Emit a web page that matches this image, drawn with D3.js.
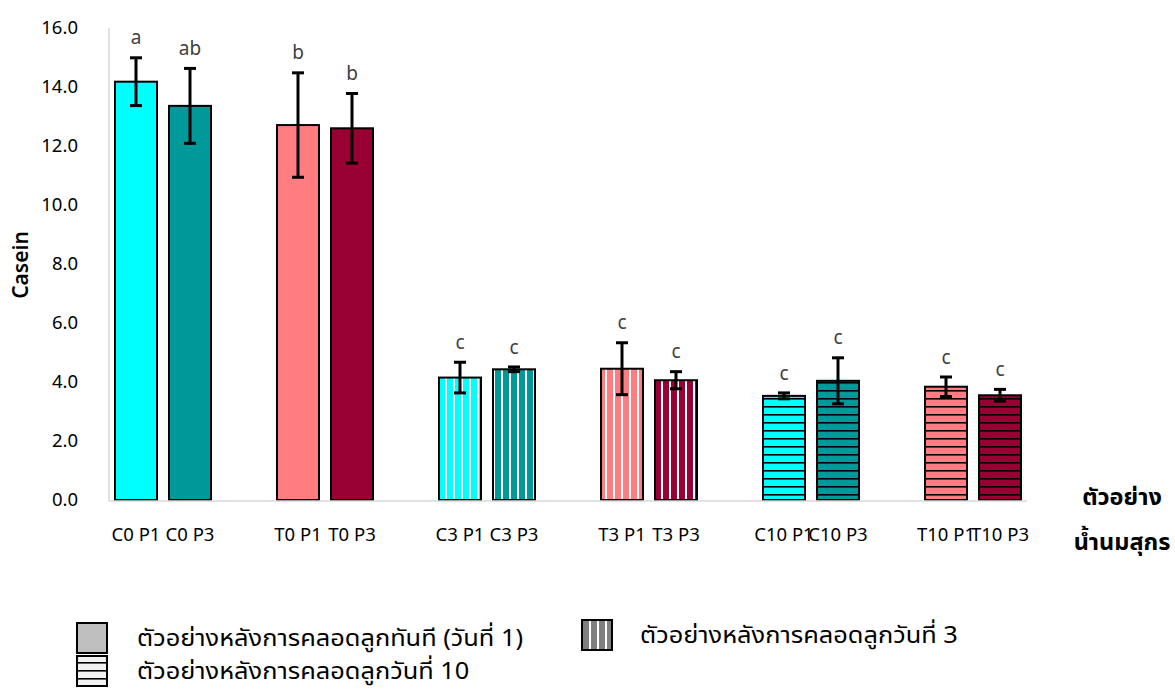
<!DOCTYPE html>
<html>
<head>
<meta charset="utf-8">
<script src="https://cdn.jsdelivr.net/npm/d3@7"></script>
<style>
  html, body { margin: 0; padding: 0; background: #fff; }
  svg { display: block; }
</style>
</head>
<body>
<svg id="chart" width="1175" height="689"></svg>
<script>
// Casein content of sow milk samples (mean ± SD) with significance letters
const categories = ["C0 P1", "C0 P3", "T0 P1", "T0 P3", "C3 P1", "C3 P3",
                    "T3 P1", "T3 P3", "C10 P1", "C10 P3", "T10 P1", "T10 P3"];
const casein = [14.18, 13.36, 12.71, 12.60, 4.15, 4.43, 4.45, 4.06, 3.53, 4.04, 3.84, 3.55];
const caseinSd = [0.81, 1.27, 1.77, 1.18, 0.52, 0.08, 0.88, 0.29, 0.10, 0.78, 0.33, 0.20];
const letters = ["a", "ab", "b", "b", "c", "c", "c", "c", "c", "c", "c", "c"];
const yTicks = [0, 2, 4, 6, 8, 10, 12, 14, 16];
const legendLabels = ["ตัวอย่างหลังการคลอดลูกทันที (วันที่ 1)",
                      "ตัวอย่างหลังการคลอดลูกวันที่ 3",
                      "ตัวอย่างหลังการคลอดลูกวันที่ 10"];
const yTitle = "Casein";
const xTitle = ["ตัวอย่าง", "น้ำนมสุกร"];

const svg = d3.select("#chart");
const latin = "'Noto Sans', 'Open Sans', sans-serif";
const thai = "'Noto Sans Thai', 'Noto Sans Thai UI', Tahoma, 'Noto Sans', sans-serif";

const plot = { left: 109, right: 1027, top: 28, bottom: 500 };

// Each pair of bars is followed by an empty slot
const slots = [];
categories.forEach((c, i) => {
  slots.push(c);
  if (i % 2 === 1 && i < categories.length - 1) slots.push("gap" + i);
});

const x = d3.scaleBand().domain(slots)
  .range([plot.left, plot.right])
  .paddingInner(12 / 54).paddingOuter(6 / 54);
const y = d3.scaleLinear().domain([0, 16]).range([plot.bottom, plot.top]);

// fill colour: control/treatment × P1/P3
function baseColour(cat) {
  const treat = cat[0] === "T";
  const p3 = /P3$/.test(cat);
  if (!treat) return p3 ? "#009999" : "#00ffff";
  return p3 ? "#990033" : "#ff7c80";
}
function day(cat) { return +cat.match(/^[CT](\d+)/)[1]; }

// patterns: vertical white stripes (day 3), horizontal black lines (day 10)
const defs = svg.append("defs");
const colours = ["#00ffff", "#009999", "#ff7c80", "#990033", "#808080", "#f2f2f2"];
colours.forEach(col => {
  const id = col.slice(1);
  const v = defs.append("pattern").attr("id", "v" + id)
    .attr("patternUnits", "userSpaceOnUse").attr("width", 8).attr("height", 8);
  v.append("rect").attr("width", 8).attr("height", 8).attr("fill", col);
  v.append("rect").attr("x", 5).attr("width", 2).attr("height", 8).attr("fill", "#fff");
  const h = defs.append("pattern").attr("id", "h" + id)
    .attr("patternUnits", "userSpaceOnUse").attr("width", 8).attr("height", 8);
  h.append("rect").attr("width", 8).attr("height", 8).attr("fill", col);
  h.append("rect").attr("y", 6).attr("width", 8).attr("height", 1.6).attr("fill", "#000");
});
function fillFor(cat) {
  const col = baseColour(cat);
  const d = day(cat);
  if (d === 0) return col;
  return `url(#${d === 3 ? "v" : "h"}${col.slice(1)})`;
}

// value axis line
svg.append("line").attr("x1", plot.left).attr("x2", plot.left)
  .attr("y1", plot.top).attr("y2", plot.bottom + 1)
  .attr("stroke", "#d9d9d9").attr("stroke-width", 1.5);

// y tick labels
svg.append("g").selectAll("text").data(yTicks).join("text")
  .attr("x", 78).attr("y", d => y(d))
  .attr("dy", "0.33em")
  .attr("text-anchor", "end")
  .attr("font-family", latin).attr("font-size", 18.5).attr("fill", "#000")
  .text(d => d3.format(".1f")(d));

const data = categories.map((c, i) => ({ cat: c, v: casein[i], sd: caseinSd[i], letter: letters[i] }));

// bars
svg.append("g").selectAll("rect").data(data).join("rect")
  .attr("x", d => x(d.cat)).attr("width", x.bandwidth())
  .attr("y", d => y(d.v)).attr("height", d => y(0) - y(d.v))
  .attr("fill", d => fillFor(d.cat))
  .attr("stroke", "#000").attr("stroke-width", 2);

// category axis line
svg.append("line").attr("x1", plot.left).attr("x2", plot.right)
  .attr("y1", plot.bottom + 1).attr("y2", plot.bottom + 1)
  .attr("stroke", "#d9d9d9").attr("stroke-width", 1.5);

// error bars
const eb = svg.append("g").attr("stroke", "#000").attr("stroke-width", 3);
data.forEach(d => {
  const cx = x(d.cat) + x.bandwidth() / 2;
  eb.append("line").attr("x1", cx).attr("x2", cx)
    .attr("y1", y(d.v + d.sd)).attr("y2", y(d.v - d.sd));
  [d.v + d.sd, d.v - d.sd].forEach(v => {
    eb.append("line").attr("x1", cx - 6).attr("x2", cx + 6)
      .attr("y1", y(v)).attr("y2", y(v));
  });
});

// significance letters
svg.append("g").selectAll("text").data(data).join("text")
  .attr("x", d => x(d.cat) + x.bandwidth() / 2)
  .attr("y", d => y(d.v + d.sd) - 20)
  .attr("dy", "0.35em")
  .attr("text-anchor", "middle")
  .attr("font-family", latin).attr("font-size", 19).attr("fill", "#404040")
  .text(d => d.letter);

// x category labels
svg.append("g").selectAll("text").data(categories).join("text")
  .attr("x", d => x(d) + x.bandwidth() / 2)
  .attr("y", 541)
  .attr("text-anchor", "middle")
  .attr("font-family", latin).attr("font-size", 18.5).attr("fill", "#000")
  .text(d => d);

// axis titles
svg.append("text")
  .attr("transform", "translate(28,265) rotate(-90)")
  .attr("text-anchor", "middle")
  .attr("font-family", latin).attr("font-size", 21).attr("font-weight", 600)
  .text(yTitle);

svg.append("g").selectAll("text").data(xTitle).join("text")
  .attr("x", 1122).attr("y", (d, i) => 505 + i * 45)
  .attr("text-anchor", "middle")
  .attr("font-family", thai).attr("font-size", 23.5).attr("font-weight", "bold")
  .text(d => d);

// legend
const legendItems = [
  { label: legendLabels[0], fill: "#bfbfbf", sx: 77, sy: 623, tx: 137 },
  { label: legendLabels[1], fill: "url(#v808080)", sx: 582, sy: 620, tx: 640 },
  { label: legendLabels[2], fill: "url(#hf2f2f2)", sx: 77, sy: 656, tx: 137 }
];
const lg = svg.append("g");
legendItems.forEach(it => {
  lg.append("rect").attr("x", it.sx).attr("y", it.sy).attr("width", 30).attr("height", 30)
    .attr("fill", it.fill).attr("stroke", "#000").attr("stroke-width", 2);
  const t = lg.append("text").attr("x", it.tx).attr("y", it.sy + 15).attr("dy", "0.35em")
    .attr("font-family", thai).attr("font-size", 23.5).attr("fill", "#000")
    .text(it.label);
  // the legend face is a little wider than the fallback Thai font
  const w = t.node().getComputedTextLength();
  t.attr("textLength", w * 1.08).attr("lengthAdjust", "spacingAndGlyphs");
});
</script>
</body>
</html>
